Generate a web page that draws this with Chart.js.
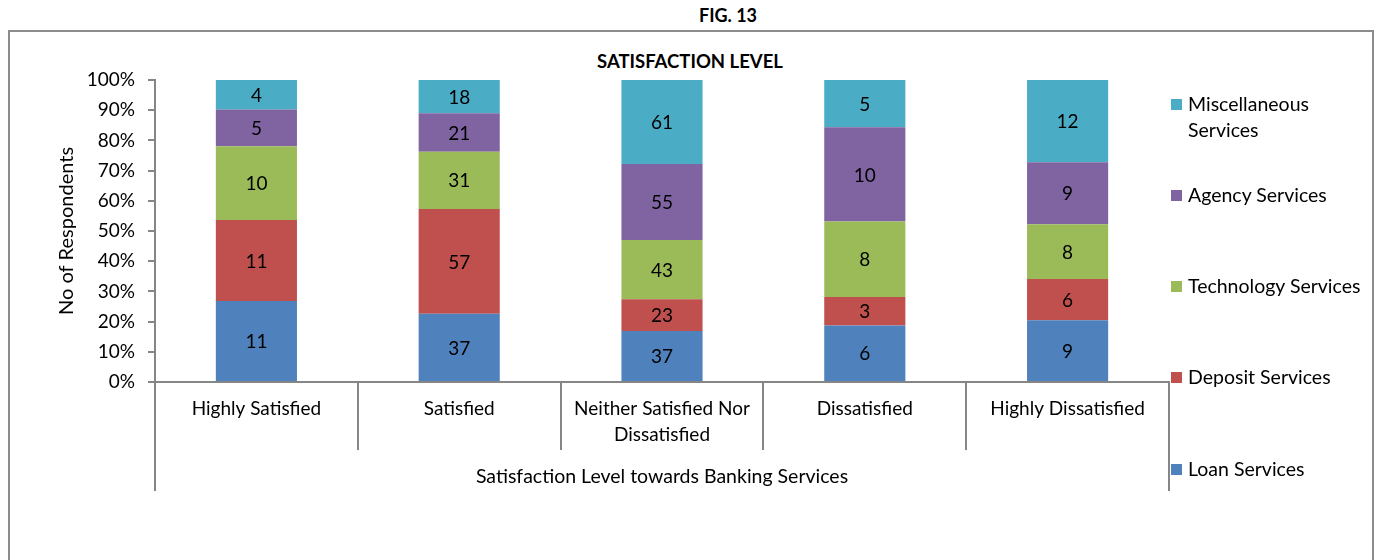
<!DOCTYPE html>
<html lang="en">
<head>
  <meta charset="UTF-8">
  <title>Fig. 13 - Satisfaction Level</title>
  <script src="https://cdn.jsdelivr.net/npm/chart.js"></script>
  <style>
    body { margin: 0; background: #fff; font-family: Lato, sans-serif; }
    #wrap { position: relative; width: 1378px; height: 560px; overflow: hidden; }
    #frame { position: absolute; left: 8px; top: 30px; width: 1362px; height: 600px;
             border: 2px solid #8c8c8c; border-bottom: none; }
    #fig { position: absolute; top: 4px; left: 0; width: 1456px; text-align: center;
           font-weight: bold; font-size: 18px; color: #000; }
    #title { position: absolute; top: 50px; left: 0; width: 1380px; text-align: center;
             font-weight: bold; font-size: 18.5px; color: #000; }
    #chartBox { position: absolute; left: 0; top: 0; width: 1378px; height: 560px; }
    #legend { position: absolute; left: 1171px; top: 0; font-size: 19.5px; color: #000; }
    #legend .item { position: absolute; left: 0; white-space: nowrap; line-height: 26px; }
    #legend .sw { position: absolute; left: 0; top: 8px; width: 11px; height: 11px; }
    #legend .txt { position: absolute; left: 17px; top: 0; }
  </style>
</head>
<body>
  <div id="wrap">
    <div id="frame"></div>
    <div id="fig">FIG. 13</div>
    <div id="title">SATISFACTION LEVEL</div>
    <div id="chartBox"><canvas id="satChart"></canvas></div>
    <div id="legend"></div>
  </div>

  <script>
    // satisfaction levels (x categories)
    const levels = ['Highly Satisfied', 'Satisfied', ['Neither Satisfied Nor', 'Dissatisfied'], 'Dissatisfied', 'Highly Dissatisfied'];

    // number of respondents per service, per level
    const loanServices       = [11, 37, 37, 6, 9];
    const depositServices    = [11, 57, 23, 3, 6];
    const technologyServices = [10, 31, 43, 8, 8];
    const agencyServices     = [5, 21, 55, 10, 9];
    const miscServices       = [4, 18, 61, 5, 12];

    const seriesNames  = ['Loan Services', 'Deposit Services', 'Technology Services', 'Agency Services', 'Miscellaneous Services'];
    const seriesColors = ['#4f81bd', '#c0504d', '#9bbb59', '#8064a2', '#4bacc6'];
    const seriesCounts = [loanServices, depositServices, technologyServices, agencyServices, miscServices];

    const yTicks = [0, 10, 20, 30, 40, 50, 60, 70, 80, 90, 100];

    const FONT = 'Lato, sans-serif';
    const GREY = '#868686';

    // totals per level, used to turn counts into 100% stacks
    const totals = levels.map((_, i) => seriesCounts.reduce((s, arr) => s + arr[i], 0));

    const datasets = seriesNames.map((name, k) => ({
      label: name,
      data: seriesCounts[k].map((v, i) => v / totals[i] * 100),
      counts: seriesCounts[k],
      backgroundColor: seriesColors[k],
      borderWidth: 0,
      barPercentage: 0.4,
      categoryPercentage: 1
    }));

    // count labels in the middle of each segment
    const countLabels = {
      id: 'countLabels',
      afterDatasetsDraw(chart) {
        const ctx = chart.ctx;
        ctx.save();
        ctx.font = '19px ' + FONT;
        ctx.fillStyle = '#000';
        ctx.textAlign = 'center';
        ctx.textBaseline = 'middle';
        chart.data.datasets.forEach((ds, k) => {
          chart.getDatasetMeta(k).data.forEach((bar, i) => {
            const p = bar.getCenterPoint();
            ctx.fillText(String(ds.counts[i]), p.x, p.y + 1);
          });
        });
        ctx.restore();
      }
    };

    // category divider lines below the axis
    const dividers = {
      id: 'dividers',
      afterDraw(chart) {
        const xs = chart.scales.x;
        const ctx = chart.ctx;
        const base = chart.chartArea.bottom;
        const half = (xs.getPixelForValue(1) - xs.getPixelForValue(0)) / 2;
        ctx.save();
        ctx.strokeStyle = GREY;
        ctx.lineWidth = 2;
        for (let i = 0; i <= levels.length; i++) {
          const x = Math.round(xs.getPixelForValue(i) - half);
          const edge = (i === 0 || i === levels.length);
          ctx.beginPath();
          ctx.moveTo(x, base);
          ctx.lineTo(x, edge ? base + 109 : base + 68);
          ctx.stroke();
        }
        ctx.restore();
      }
    };

    new Chart(document.getElementById('satChart'), {
      type: 'bar',
      data: { labels: levels, datasets: datasets },
      plugins: [countLabels, dividers],
      options: {
        responsive: true,
        maintainAspectRatio: false,
        animation: false,
        layout: { padding: { top: 80, right: 209, left: 0, bottom: 0 } },
        plugins: { legend: { display: false }, tooltip: { enabled: false }, title: { display: false } },
        scales: {
          x: {
            stacked: true,
            afterFit(scale) { scale.height = 178; },
            grid: { display: false, drawTicks: false },
            border: { display: true, color: GREY, width: 2 },
            ticks: { color: '#000', font: { family: FONT, size: 19, lineHeight: 1.37 }, padding: 14, maxRotation: 0, autoSkip: false },
            title: {
              display: true,
              text: 'Satisfaction Level towards Banking Services',
              color: '#000',
              font: { family: FONT, size: 19.5 },
              padding: { bottom: 72, top: 0 }
            }
          },
          y: {
            stacked: true,
            min: 0,
            max: 100,
            afterFit(scale) { scale.width = 155; },
            afterBuildTicks(scale) { scale.ticks = yTicks.map(v => ({ value: v })); },
            grid: { drawOnChartArea: false, drawTicks: true, tickLength: 7, color: GREY, lineWidth: 2 },
            border: { display: true, color: GREY, width: 2 },
            ticks: { color: '#000', font: { family: FONT, size: 19 }, padding: 13, callback: v => v + '%' },
            title: {
              display: true,
              text: 'No of Respondents',
              color: '#000',
              font: { family: FONT, size: 20 },
              padding: { top: 55, bottom: 0 }
            }
          }
        }
      }
    });

    // legend on the right, top item is the top of the stack
    const legendTops = [91, 182, 273, 364, 456];
    const legend = document.getElementById('legend');
    seriesNames.slice().reverse().forEach((name, j) => {
      const k = seriesNames.length - 1 - j;
      const item = document.createElement('div');
      item.className = 'item';
      item.style.top = legendTops[j] + 'px';
      const text = name === 'Miscellaneous Services' ? 'Miscellaneous<br>Services' : name;
      item.innerHTML = '<span class="sw" style="background:' + seriesColors[k] + '"></span>' +
                       '<span class="txt">' + text + '</span>';
      legend.appendChild(item);
    });
  </script>
</body>
</html>
